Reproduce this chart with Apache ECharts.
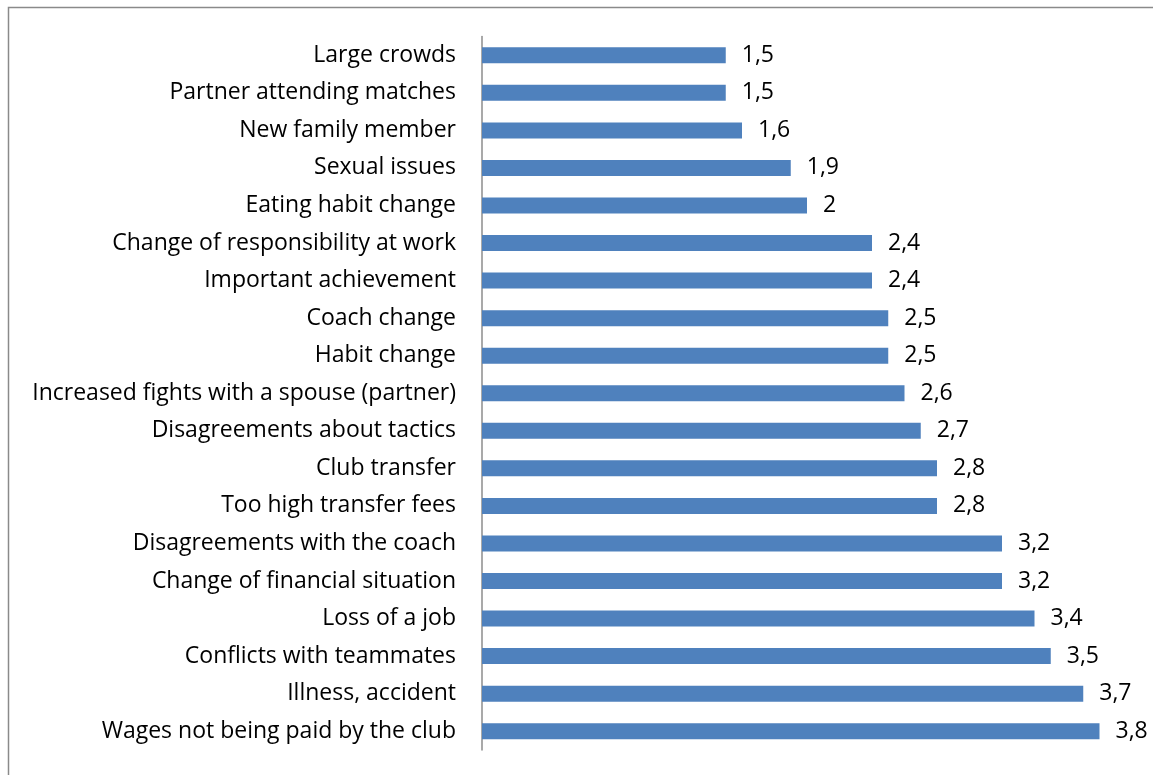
<!DOCTYPE html>
<html>
<head>
<meta charset="utf-8">
<style>
  html, body { margin: 0; padding: 0; background: #fff; }
  #chart { width: 1153px; height: 775px; }
</style>
<script src="https://cdn.jsdelivr.net/npm/echarts@6/dist/echarts.min.js"></script>
</head>
<body>
<div id="chart"></div>
<script>
// Stress factors, listed top to bottom
const categories = [
  'Large crowds',
  'Partner attending matches',
  'New family member',
  'Sexual issues',
  'Eating habit change',
  'Change of responsibility at work',
  'Important achievement',
  'Coach change',
  'Habit change',
  'Increased fights with a spouse (partner)',
  'Disagreements about tactics',
  'Club transfer',
  'Too high transfer fees',
  'Disagreements with the coach',
  'Change of financial situation',
  'Loss of a job',
  'Conflicts with teammates',
  'Illness, accident',
  'Wages not being paid by the club'
];
const meanScores = [1.5, 1.5, 1.6, 1.9, 2, 2.4, 2.4, 2.5, 2.5, 2.6, 2.7, 2.8, 2.8, 3.2, 3.2, 3.4, 3.5, 3.7, 3.8];

const FONT = '"Open Sans"';
const chart = echarts.init(document.getElementById('chart'), null, { renderer: 'canvas' });
chart.setOption({
  animation: false,
  backgroundColor: '#ffffff',
  graphic: [{
    type: 'rect',
    shape: { x: 8.5, y: 7.5, width: 1200, height: 800 },
    style: { fill: 'none', stroke: '#8a8a8a', lineWidth: 1.5 },
    silent: true
  }],
  grid: { left: 482, right: 21, top: 36.5, bottom: 25, containLabel: false },
  xAxis: {
    type: 'value',
    min: 0,
    max: 4,
    show: false
  },
  yAxis: {
    type: 'category',
    data: categories,
    inverse: true,
    axisLine: { show: true, lineStyle: { color: '#8c8c8c', width: 1.5 } },
    axisTick: { show: false },
    axisLabel: {
      margin: 26,
      color: '#000',
      fontFamily: FONT,
      fontSize: 23,
      padding: [4, 0, 0, 0]
    }
  },
  series: [{
    type: 'bar',
    data: meanScores,
    barWidth: 16,
    itemStyle: { color: '#4F81BD' },
    label: {
      show: true,
      position: 'right',
      distance: 16,
      color: '#000',
      fontFamily: FONT,
      fontSize: 23,
      padding: [4, 0, 0, 0],
      formatter: p => String(p.value).replace('.', ',')
    }
  }]
});
</script>
</body>
</html>
